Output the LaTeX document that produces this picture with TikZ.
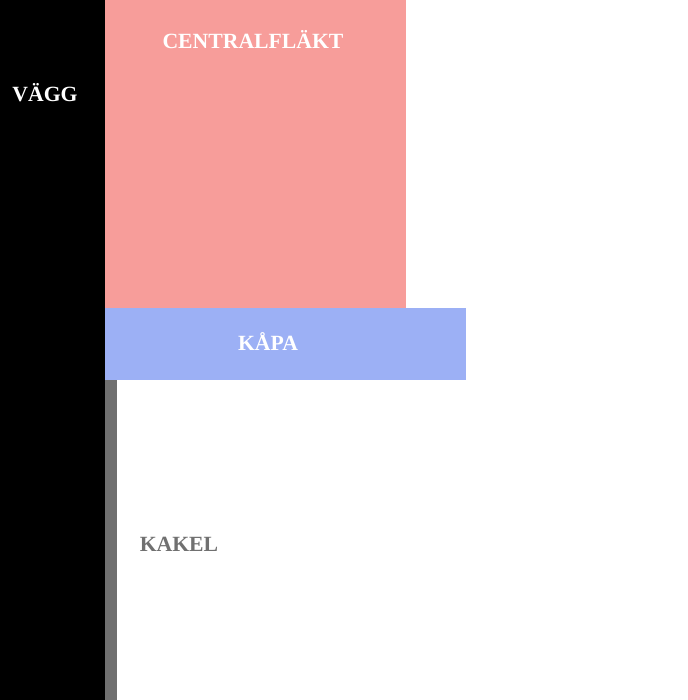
\documentclass[tikz,border=0pt]{standalone}
\usepackage{fontspec}
\setmainfont{Liberation Serif}
\definecolor{pinkc}{HTML}{F79D9A}
\definecolor{bluec}{HTML}{9CB0F5}
\definecolor{grayc}{HTML}{707070}
\begin{document}
\begin{tikzpicture}[x=1pt,y=-1pt,
  lbl/.style={font=\fontsize{21.7}{24}\selectfont\bfseries, inner sep=0pt}]
\useasboundingbox (0,0) rectangle (687,700);
\fill[white] (0,0) rectangle (687,700);
\fill[black] (0,0) rectangle (105,700);
\fill[pinkc] (105,0) rectangle (406,308);
\fill[bluec] (105,308) rectangle (466,380);
\fill[grayc] (105,380) rectangle (117,700);
\node[lbl, text=white] (vagg) at (45,93) {VÄGG};
\node[lbl, text=white] (fan) at (253,40) {CENTRALFLÄKT};
\node[lbl, text=white] (kapa) at (268,342) {KÅPA};
\node[lbl, text=grayc] (kakel) at (179,544) {KAKEL};
\end{tikzpicture}
\end{document}
